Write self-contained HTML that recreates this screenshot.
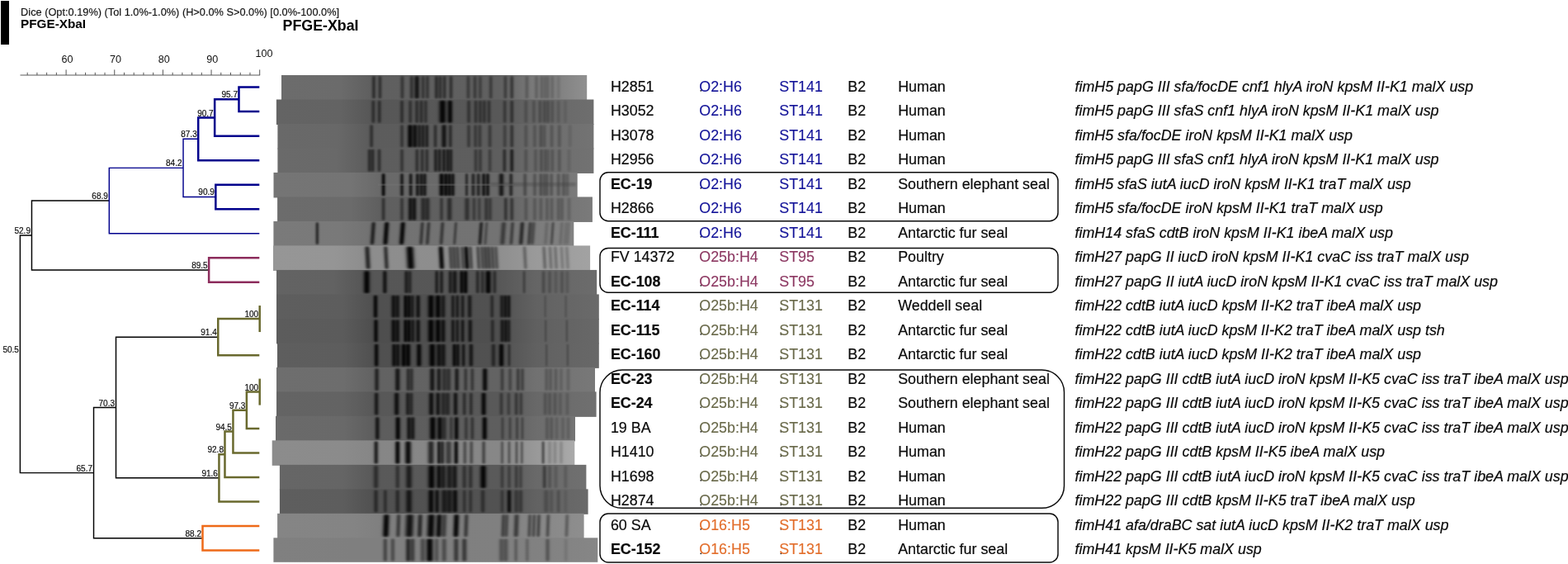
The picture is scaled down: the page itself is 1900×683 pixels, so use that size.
<!DOCTYPE html>
<html lang="en">
<head>
<meta charset="utf-8">
<title>PFGE-XbaI dendrogram</title>
<style>
html,body{margin:0;padding:0;background:#fff;}
body{width:1900px;height:683px;position:relative;overflow:hidden;font-family:"Liberation Sans",sans-serif;color:#0a0a0a;}
svg{position:absolute;left:0;top:0;}
svg text{font-family:"Liberation Sans",sans-serif;}
.bar{position:absolute;left:.6px;top:.7px;width:10.4px;height:53.8px;background:#000;}
.hd{position:absolute;white-space:nowrap;line-height:1;}
.r{position:absolute;left:0;width:1900px;height:30px;font-size:17.88px;line-height:30px;}
.c{position:absolute;top:0;white-space:nowrap;transform:scaleY(1.035);transform-origin:0 21.2px;-webkit-text-stroke:.2px currentColor;}
.k{-webkit-text-stroke:.12px currentColor;}
.b{font-weight:bold;}
.i{font-style:italic;}
</style>
</head>
<body>
<div class="bar"></div>
<div class="hd" style="left:25.1px;top:8.9px;font-size:12.78px;color:#111;-webkit-text-stroke:.15px #111">Dice (Opt:0.19%) (Tol 1.0%-1.0%) (H&gt;0.0% S&gt;0.0%) [0.0%-100.0%]</div>
<div class="hd b" style="left:25px;top:21.2px;font-size:15.3px;color:#000">PFGE-XbaI</div>
<div class="hd b" style="left:342.6px;top:22.9px;font-size:17.8px;color:#000">PFGE-XbaI</div>
<svg width="1900" height="683" viewBox="0 0 1900 683">
<defs><linearGradient id="bd" x1="0" x2="1" y1="0" y2="0"><stop offset="0" stop-color="#000" stop-opacity="0"/><stop offset="0.1" stop-color="#000" stop-opacity="0.007"/><stop offset="0.18" stop-color="#000" stop-opacity="0.06"/><stop offset="0.25" stop-color="#000" stop-opacity="0.228"/><stop offset="0.31" stop-color="#000" stop-opacity="0.484"/><stop offset="0.36" stop-color="#000" stop-opacity="0.721"/><stop offset="0.4" stop-color="#000" stop-opacity="0.872"/><stop offset="0.44" stop-color="#000" stop-opacity="0.964"/><stop offset="0.47" stop-color="#000" stop-opacity="0.994"/><stop offset="0.5" stop-color="#000" stop-opacity="1"/><stop offset="0.53" stop-color="#000" stop-opacity="0.994"/><stop offset="0.56" stop-color="#000" stop-opacity="0.964"/><stop offset="0.6" stop-color="#000" stop-opacity="0.872"/><stop offset="0.64" stop-color="#000" stop-opacity="0.721"/><stop offset="0.69" stop-color="#000" stop-opacity="0.484"/><stop offset="0.75" stop-color="#000" stop-opacity="0.228"/><stop offset="0.82" stop-color="#000" stop-opacity="0.06"/><stop offset="0.9" stop-color="#000" stop-opacity="0.007"/><stop offset="1" stop-color="#000" stop-opacity="0"/></linearGradient><linearGradient id="l0" x1="0" x2="1" y1="0" y2="0"><stop offset="0" stop-color="#6c6c6c"/><stop offset="0.194" stop-color="#6b6b6b"/><stop offset="0.291" stop-color="#5f5f5f"/><stop offset="0.713" stop-color="#606060"/><stop offset="0.835" stop-color="#7c7c7c"/><stop offset="0.88" stop-color="#7c7c7c"/><stop offset="1" stop-color="#909090"/></linearGradient><linearGradient id="l1" x1="0" x2="1" y1="0" y2="0"><stop offset="0" stop-color="#646464"/><stop offset="0.201" stop-color="#636363"/><stop offset="0.295" stop-color="#575757"/><stop offset="0.702" stop-color="#585858"/><stop offset="0.82" stop-color="#676767"/><stop offset="1" stop-color="#6e6e6e"/></linearGradient><linearGradient id="l2" x1="0" x2="1" y1="0" y2="0"><stop offset="0" stop-color="#696969"/><stop offset="0.192" stop-color="#686868"/><stop offset="0.286" stop-color="#5c5c5c"/><stop offset="0.701" stop-color="#5d5d5d"/><stop offset="0.819" stop-color="#6c6c6c"/><stop offset="1" stop-color="#737373"/></linearGradient><linearGradient id="l3" x1="0" x2="1" y1="0" y2="0"><stop offset="0" stop-color="#6a6a6a"/><stop offset="0.186" stop-color="#696969"/><stop offset="0.28" stop-color="#5d5d5d"/><stop offset="0.701" stop-color="#5e5e5e"/><stop offset="0.819" stop-color="#6c6c6c"/><stop offset="1" stop-color="#727272"/></linearGradient><linearGradient id="l4" x1="0" x2="1" y1="0" y2="0"><stop offset="0" stop-color="#757575"/><stop offset="0.253" stop-color="#747474"/><stop offset="0.351" stop-color="#696969"/><stop offset="0.743" stop-color="#6a6a6a"/><stop offset="0.865" stop-color="#757575"/><stop offset="1" stop-color="#7a7a7a"/></linearGradient><linearGradient id="l5" x1="0" x2="1" y1="0" y2="0"><stop offset="0" stop-color="#6c6c6c"/><stop offset="0.232" stop-color="#6b6b6b"/><stop offset="0.326" stop-color="#5f5f5f"/><stop offset="0.704" stop-color="#606060"/><stop offset="0.822" stop-color="#717171"/><stop offset="1" stop-color="#7a7a7a"/></linearGradient><linearGradient id="l6" x1="0" x2="1" y1="0" y2="0"><stop offset="0" stop-color="#7a7a7a"/><stop offset="0.221" stop-color="#797979"/><stop offset="0.32" stop-color="#727272"/><stop offset="0.752" stop-color="#737373"/><stop offset="0.876" stop-color="#7c7c7c"/><stop offset="1" stop-color="#828282"/></linearGradient><linearGradient id="l7" x1="0" x2="1" y1="0" y2="0"><stop offset="0" stop-color="#969696"/><stop offset="0.194" stop-color="#959595"/><stop offset="0.288" stop-color="#8d8d8d"/><stop offset="0.713" stop-color="#8e8e8e"/><stop offset="0.831" stop-color="#9a9a9a"/><stop offset="1" stop-color="#a2a2a2"/></linearGradient><linearGradient id="l8" x1="0" x2="1" y1="0" y2="0"><stop offset="0" stop-color="#636363"/><stop offset="0.179" stop-color="#626262"/><stop offset="0.272" stop-color="#565656"/><stop offset="0.696" stop-color="#575757"/><stop offset="0.811" stop-color="#656565"/><stop offset="1" stop-color="#6c6c6c"/></linearGradient><linearGradient id="l9" x1="0" x2="1" y1="0" y2="0"><stop offset="0" stop-color="#5e5e5e"/><stop offset="0.205" stop-color="#5d5d5d"/><stop offset="0.297" stop-color="#505050"/><stop offset="0.691" stop-color="#515151"/><stop offset="0.806" stop-color="#626262"/><stop offset="1" stop-color="#6a6a6a"/></linearGradient><linearGradient id="l10" x1="0" x2="1" y1="0" y2="0"><stop offset="0" stop-color="#5c5c5c"/><stop offset="0.206" stop-color="#5b5b5b"/><stop offset="0.298" stop-color="#4e4e4e"/><stop offset="0.691" stop-color="#4f4f4f"/><stop offset="0.806" stop-color="#606060"/><stop offset="1" stop-color="#686868"/></linearGradient><linearGradient id="l11" x1="0" x2="1" y1="0" y2="0"><stop offset="0" stop-color="#5e5e5e"/><stop offset="0.205" stop-color="#5d5d5d"/><stop offset="0.298" stop-color="#505050"/><stop offset="0.69" stop-color="#515151"/><stop offset="0.806" stop-color="#616161"/><stop offset="1" stop-color="#686868"/></linearGradient><linearGradient id="l12" x1="0" x2="1" y1="0" y2="0"><stop offset="0" stop-color="#6e6e6e"/><stop offset="0.211" stop-color="#6d6d6d"/><stop offset="0.304" stop-color="#626262"/><stop offset="0.699" stop-color="#636363"/><stop offset="0.816" stop-color="#717171"/><stop offset="1" stop-color="#787878"/></linearGradient><linearGradient id="l13" x1="0" x2="1" y1="0" y2="0"><stop offset="0" stop-color="#646464"/><stop offset="0.209" stop-color="#636363"/><stop offset="0.302" stop-color="#585858"/><stop offset="0.697" stop-color="#595959"/><stop offset="0.813" stop-color="#686868"/><stop offset="1" stop-color="#707070"/></linearGradient><linearGradient id="l14" x1="0" x2="1" y1="0" y2="0"><stop offset="0" stop-color="#6a6a6a"/><stop offset="0.229" stop-color="#696969"/><stop offset="0.328" stop-color="#5d5d5d"/><stop offset="0.747" stop-color="#5e5e5e"/><stop offset="0.871" stop-color="#6d6d6d"/><stop offset="1" stop-color="#747474"/></linearGradient><linearGradient id="l15" x1="0" x2="1" y1="0" y2="0"><stop offset="0" stop-color="#8c8c8c"/><stop offset="0.235" stop-color="#8b8b8b"/><stop offset="0.333" stop-color="#868686"/><stop offset="0.751" stop-color="#878787"/><stop offset="0.874" stop-color="#999999"/><stop offset="1" stop-color="#aaaaaa"/></linearGradient><linearGradient id="l16" x1="0" x2="1" y1="0" y2="0"><stop offset="0" stop-color="#666666"/><stop offset="0.206" stop-color="#656565"/><stop offset="0.303" stop-color="#595959"/><stop offset="0.716" stop-color="#5a5a5a"/><stop offset="0.837" stop-color="#696969"/><stop offset="1" stop-color="#707070"/></linearGradient><linearGradient id="l17" x1="0" x2="1" y1="0" y2="0"><stop offset="0" stop-color="#5e5e5e"/><stop offset="0.205" stop-color="#5d5d5d"/><stop offset="0.301" stop-color="#515151"/><stop offset="0.712" stop-color="#525252"/><stop offset="0.832" stop-color="#626262"/><stop offset="1" stop-color="#6a6a6a"/></linearGradient><linearGradient id="l18" x1="0" x2="1" y1="0" y2="0"><stop offset="0" stop-color="#858585"/><stop offset="0.247" stop-color="#848484"/><stop offset="0.344" stop-color="#7f7f7f"/><stop offset="0.724" stop-color="#808080"/><stop offset="0.845" stop-color="#878787"/><stop offset="1" stop-color="#8e8e8e"/></linearGradient><linearGradient id="l19" x1="0" x2="1" y1="0" y2="0"><stop offset="0" stop-color="#808080"/><stop offset="0.243" stop-color="#7f7f7f"/><stop offset="0.334" stop-color="#7f7f7f"/><stop offset="0.696" stop-color="#808080"/><stop offset="0.811" stop-color="#818181"/><stop offset="1" stop-color="#868686"/></linearGradient><filter id="bl" x="-5%" y="-20%" width="110%" height="140%"><feGaussianBlur stdDeviation="0.8 1.3"/></filter><clipPath id="c0"><rect x="341.0" y="91.00" width="370.2" height="29.49"/></clipPath><clipPath id="c1"><rect x="334.9" y="120.49" width="384.5" height="29.49"/></clipPath><clipPath id="c2"><rect x="336.4" y="149.98" width="383.0" height="29.49"/></clipPath><clipPath id="c3"><rect x="336.4" y="179.47" width="383.0" height="29.49"/></clipPath><clipPath id="c4"><rect x="331.5" y="208.96" width="368.2" height="29.49"/></clipPath><clipPath id="c5"><rect x="336.1" y="238.45" width="381.8" height="29.49"/></clipPath><clipPath id="c6"><rect x="331.4" y="267.94" width="363.9" height="29.49"/></clipPath><clipPath id="c7"><rect x="331.0" y="297.43" width="384.1" height="29.49"/></clipPath><clipPath id="c8"><rect x="335.0" y="326.92" width="388.2" height="29.49"/></clipPath><clipPath id="c9"><rect x="335.0" y="356.41" width="390.8" height="29.49"/></clipPath><clipPath id="c10"><rect x="335.0" y="385.90" width="390.8" height="29.49"/></clipPath><clipPath id="c11"><rect x="336.0" y="415.39" width="389.8" height="29.49"/></clipPath><clipPath id="c12"><rect x="335.0" y="444.88" width="386.0" height="29.49"/></clipPath><clipPath id="c13"><rect x="335.0" y="474.37" width="387.6" height="29.49"/></clipPath><clipPath id="c14"><rect x="334.0" y="503.86" width="363.0" height="29.49"/></clipPath><clipPath id="c15"><rect x="329.7" y="533.35" width="366.6" height="29.49"/></clipPath><clipPath id="c16"><rect x="338.9" y="562.84" width="371.5" height="29.49"/></clipPath><clipPath id="c17"><rect x="338.9" y="592.33" width="373.7" height="29.49"/></clipPath><clipPath id="c18"><rect x="336.1" y="621.82" width="371.5" height="29.49"/></clipPath><clipPath id="c19"><rect x="331.4" y="651.31" width="392.9" height="29.49"/></clipPath></defs><g shape-rendering="auto"><rect x="341.0" y="91.00" width="370.2" height="30.49" fill="url(#l0)"/><g clip-path="url(#c0)"><g filter="url(#bl)"><rect x="448.1" y="92.3" width="9.6" height="26.9" rx="4.8" ry="3.5" fill="url(#bd)" opacity="0.56"/><rect x="455.6" y="92.3" width="9.6" height="26.9" rx="4.8" ry="3.5" fill="url(#bd)" opacity="0.51"/><rect x="482.6" y="92.3" width="9.6" height="26.9" rx="4.8" ry="3.5" fill="url(#bd)" opacity="0.46"/><rect x="493.9" y="92.3" width="9.6" height="26.9" rx="4.8" ry="3.5" fill="url(#bd)" opacity="0.51"/><rect x="498.3" y="92.3" width="13.6" height="26.9" rx="6.8" ry="3.5" fill="url(#bd)" opacity="0.80"/><rect x="507.8" y="92.3" width="9.6" height="26.9" rx="4.8" ry="3.5" fill="url(#bd)" opacity="0.46"/><rect x="513.1" y="92.3" width="9.6" height="26.9" rx="4.8" ry="3.5" fill="url(#bd)" opacity="0.46"/><rect x="524.0" y="92.3" width="9.6" height="26.9" rx="4.8" ry="3.5" fill="url(#bd)" opacity="0.56"/><rect x="528.6" y="92.3" width="9.6" height="26.9" rx="4.8" ry="3.5" fill="url(#bd)" opacity="0.51"/><rect x="533.8" y="92.3" width="9.6" height="26.9" rx="4.8" ry="3.5" fill="url(#bd)" opacity="0.51"/><rect x="541.6" y="92.3" width="9.6" height="26.9" rx="4.8" ry="3.5" fill="url(#bd)" opacity="0.51"/><rect x="562.6" y="92.3" width="9.6" height="26.9" rx="4.8" ry="3.5" fill="url(#bd)" opacity="0.41"/><rect x="570.7" y="92.3" width="9.6" height="26.9" rx="4.8" ry="3.5" fill="url(#bd)" opacity="0.41"/><rect x="577.1" y="92.3" width="9.6" height="26.9" rx="4.8" ry="3.5" fill="url(#bd)" opacity="0.36"/><rect x="589.9" y="92.3" width="9.6" height="26.9" rx="4.8" ry="3.5" fill="url(#bd)" opacity="0.41"/><rect x="607.6" y="92.3" width="9.6" height="26.9" rx="4.8" ry="3.5" fill="url(#bd)" opacity="0.41"/><rect x="615.4" y="92.3" width="9.6" height="26.9" rx="4.8" ry="3.5" fill="url(#bd)" opacity="0.51"/><rect x="633.6" y="92.3" width="9.6" height="26.9" rx="4.8" ry="3.5" fill="url(#bd)" opacity="0.24"/><rect x="645.2" y="92.3" width="9.6" height="26.9" rx="4.8" ry="3.5" fill="url(#bd)" opacity="0.24"/><rect x="651.7" y="92.3" width="9.6" height="26.9" rx="4.8" ry="3.5" fill="url(#bd)" opacity="0.24"/><rect x="657.2" y="92.3" width="6.9" height="26.9" rx="3.5" ry="3.5" fill="url(#bd)" opacity="0.24"/><rect x="660.4" y="92.3" width="6.9" height="26.9" rx="3.5" ry="3.5" fill="url(#bd)" opacity="0.24"/><rect x="664.5" y="92.3" width="9.6" height="26.9" rx="4.8" ry="3.5" fill="url(#bd)" opacity="0.18"/><rect x="671.9" y="92.3" width="9.6" height="26.9" rx="4.8" ry="3.5" fill="url(#bd)" opacity="0.12"/></g></g><rect x="334.9" y="120.49" width="384.5" height="30.49" fill="url(#l1)"/><g clip-path="url(#c1)"><g filter="url(#bl)"><rect x="447.5" y="121.8" width="9.6" height="26.9" rx="4.8" ry="3.5" fill="url(#bd)" opacity="0.51"/><rect x="454.9" y="121.8" width="9.6" height="26.9" rx="4.8" ry="3.5" fill="url(#bd)" opacity="0.51"/><rect x="482.2" y="121.8" width="9.6" height="26.9" rx="4.8" ry="3.5" fill="url(#bd)" opacity="0.51"/><rect x="492.4" y="121.8" width="9.6" height="26.9" rx="4.8" ry="3.5" fill="url(#bd)" opacity="0.46"/><rect x="500.3" y="121.8" width="9.6" height="26.9" rx="4.8" ry="3.5" fill="url(#bd)" opacity="0.51"/><rect x="505.7" y="121.8" width="9.6" height="26.9" rx="4.8" ry="3.5" fill="url(#bd)" opacity="0.51"/><rect x="511.0" y="121.8" width="9.6" height="26.9" rx="4.8" ry="3.5" fill="url(#bd)" opacity="0.46"/><rect x="526.6" y="121.8" width="19.2" height="26.9" rx="9.6" ry="3.5" fill="url(#bd)" opacity="0.95"/><rect x="538.5" y="121.8" width="13.6" height="26.9" rx="6.8" ry="3.5" fill="url(#bd)" opacity="0.95"/><rect x="563.2" y="121.8" width="9.6" height="26.9" rx="4.8" ry="3.5" fill="url(#bd)" opacity="0.46"/><rect x="571.7" y="121.8" width="9.6" height="26.9" rx="4.8" ry="3.5" fill="url(#bd)" opacity="0.46"/><rect x="577.1" y="121.8" width="9.6" height="26.9" rx="4.8" ry="3.5" fill="url(#bd)" opacity="0.46"/><rect x="582.0" y="121.8" width="9.6" height="26.9" rx="4.8" ry="3.5" fill="url(#bd)" opacity="0.46"/><rect x="587.7" y="121.8" width="9.6" height="26.9" rx="4.8" ry="3.5" fill="url(#bd)" opacity="0.46"/><rect x="606.9" y="121.8" width="9.6" height="26.9" rx="4.8" ry="3.5" fill="url(#bd)" opacity="0.41"/><rect x="615.4" y="121.8" width="9.6" height="26.9" rx="4.8" ry="3.5" fill="url(#bd)" opacity="0.51"/><rect x="632.5" y="121.8" width="9.6" height="26.9" rx="4.8" ry="3.5" fill="url(#bd)" opacity="0.24"/><rect x="642.1" y="121.8" width="9.6" height="26.9" rx="4.8" ry="3.5" fill="url(#bd)" opacity="0.24"/><rect x="649.6" y="121.8" width="9.6" height="26.9" rx="4.8" ry="3.5" fill="url(#bd)" opacity="0.30"/><rect x="654.9" y="121.8" width="9.6" height="26.9" rx="4.8" ry="3.5" fill="url(#bd)" opacity="0.30"/><rect x="659.2" y="121.8" width="9.6" height="26.9" rx="4.8" ry="3.5" fill="url(#bd)" opacity="0.30"/><rect x="664.5" y="121.8" width="9.6" height="26.9" rx="4.8" ry="3.5" fill="url(#bd)" opacity="0.24"/><rect x="671.9" y="121.8" width="9.6" height="26.9" rx="4.8" ry="3.5" fill="url(#bd)" opacity="0.18"/><rect x="680.2" y="121.8" width="9.6" height="26.9" rx="4.8" ry="3.5" fill="url(#bd)" opacity="0.12"/></g></g><rect x="336.4" y="149.98" width="383.0" height="30.49" fill="url(#l2)"/><g clip-path="url(#c2)"><g filter="url(#bl)"><rect x="445.3" y="151.3" width="9.6" height="26.9" rx="4.8" ry="3.5" fill="url(#bd)" opacity="0.51"/><rect x="482.2" y="151.3" width="9.6" height="26.9" rx="4.8" ry="3.5" fill="url(#bd)" opacity="0.46"/><rect x="490.1" y="151.3" width="13.6" height="26.9" rx="6.8" ry="3.5" fill="url(#bd)" opacity="0.95"/><rect x="496.0" y="151.3" width="13.6" height="26.9" rx="6.8" ry="3.5" fill="url(#bd)" opacity="0.85"/><rect x="503.4" y="151.3" width="9.6" height="26.9" rx="4.8" ry="3.5" fill="url(#bd)" opacity="0.68"/><rect x="507.8" y="151.3" width="9.6" height="26.9" rx="4.8" ry="3.5" fill="url(#bd)" opacity="0.68"/><rect x="512.5" y="151.3" width="9.6" height="26.9" rx="4.8" ry="3.5" fill="url(#bd)" opacity="0.68"/><rect x="522.7" y="151.3" width="9.6" height="26.9" rx="4.8" ry="3.5" fill="url(#bd)" opacity="0.51"/><rect x="531.2" y="151.3" width="13.6" height="26.9" rx="6.8" ry="3.5" fill="url(#bd)" opacity="0.80"/><rect x="540.9" y="151.3" width="9.6" height="26.9" rx="4.8" ry="3.5" fill="url(#bd)" opacity="0.56"/><rect x="563.2" y="151.3" width="9.6" height="26.9" rx="4.8" ry="3.5" fill="url(#bd)" opacity="0.41"/><rect x="571.3" y="151.3" width="9.6" height="26.9" rx="4.8" ry="3.5" fill="url(#bd)" opacity="0.41"/><rect x="576.6" y="151.3" width="9.6" height="26.9" rx="4.8" ry="3.5" fill="url(#bd)" opacity="0.41"/><rect x="588.8" y="151.3" width="9.6" height="26.9" rx="4.8" ry="3.5" fill="url(#bd)" opacity="0.41"/><rect x="606.9" y="151.3" width="9.6" height="26.9" rx="4.8" ry="3.5" fill="url(#bd)" opacity="0.36"/><rect x="615.4" y="151.3" width="9.6" height="26.9" rx="4.8" ry="3.5" fill="url(#bd)" opacity="0.51"/><rect x="632.5" y="151.3" width="9.6" height="26.9" rx="4.8" ry="3.5" fill="url(#bd)" opacity="0.24"/><rect x="643.2" y="151.3" width="9.6" height="26.9" rx="4.8" ry="3.5" fill="url(#bd)" opacity="0.24"/><rect x="650.6" y="151.3" width="9.6" height="26.9" rx="4.8" ry="3.5" fill="url(#bd)" opacity="0.30"/><rect x="654.9" y="151.3" width="9.6" height="26.9" rx="4.8" ry="3.5" fill="url(#bd)" opacity="0.24"/><rect x="663.8" y="151.3" width="9.6" height="26.9" rx="4.8" ry="3.5" fill="url(#bd)" opacity="0.24"/><rect x="673.0" y="151.3" width="9.6" height="26.9" rx="4.8" ry="3.5" fill="url(#bd)" opacity="0.24"/><rect x="685.8" y="151.3" width="9.6" height="26.9" rx="4.8" ry="3.5" fill="url(#bd)" opacity="0.12"/></g></g><rect x="336.4" y="179.47" width="383.0" height="30.49" fill="url(#l3)"/><g clip-path="url(#c3)"><g filter="url(#bl)"><rect x="442.9" y="180.8" width="9.5" height="26.9" rx="4.7" ry="3.5" fill="url(#bd)" opacity="0.56"/><rect x="446.9" y="180.8" width="9.5" height="26.9" rx="4.7" ry="3.5" fill="url(#bd)" opacity="0.56"/><rect x="454.7" y="180.8" width="9.6" height="26.9" rx="4.8" ry="3.5" fill="url(#bd)" opacity="0.51"/><rect x="482.2" y="180.8" width="9.6" height="26.9" rx="4.8" ry="3.5" fill="url(#bd)" opacity="0.46"/><rect x="500.5" y="180.8" width="9.6" height="26.9" rx="4.8" ry="3.5" fill="url(#bd)" opacity="0.51"/><rect x="506.8" y="180.8" width="9.6" height="26.9" rx="4.8" ry="3.5" fill="url(#bd)" opacity="0.51"/><rect x="512.5" y="180.8" width="9.6" height="26.9" rx="4.8" ry="3.5" fill="url(#bd)" opacity="0.51"/><rect x="523.1" y="180.8" width="9.6" height="26.9" rx="4.8" ry="3.5" fill="url(#bd)" opacity="0.68"/><rect x="527.8" y="180.8" width="9.6" height="26.9" rx="4.8" ry="3.5" fill="url(#bd)" opacity="0.68"/><rect x="533.1" y="180.8" width="9.6" height="26.9" rx="4.8" ry="3.5" fill="url(#bd)" opacity="0.74"/><rect x="538.2" y="180.8" width="8.8" height="26.9" rx="4.4" ry="3.5" fill="url(#bd)" opacity="0.74"/><rect x="542.0" y="180.8" width="8.8" height="26.9" rx="4.4" ry="3.5" fill="url(#bd)" opacity="0.68"/><rect x="571.7" y="180.8" width="9.6" height="26.9" rx="4.8" ry="3.5" fill="url(#bd)" opacity="0.41"/><rect x="577.1" y="180.8" width="9.6" height="26.9" rx="4.8" ry="3.5" fill="url(#bd)" opacity="0.41"/><rect x="588.8" y="180.8" width="9.6" height="26.9" rx="4.8" ry="3.5" fill="url(#bd)" opacity="0.36"/><rect x="606.5" y="180.8" width="9.6" height="26.9" rx="4.8" ry="3.5" fill="url(#bd)" opacity="0.56"/><rect x="615.4" y="180.8" width="9.6" height="26.9" rx="4.8" ry="3.5" fill="url(#bd)" opacity="0.74"/><rect x="632.5" y="180.8" width="9.6" height="26.9" rx="4.8" ry="3.5" fill="url(#bd)" opacity="0.24"/><rect x="644.2" y="180.8" width="9.6" height="26.9" rx="4.8" ry="3.5" fill="url(#bd)" opacity="0.24"/><rect x="651.2" y="180.8" width="9.6" height="26.9" rx="4.8" ry="3.5" fill="url(#bd)" opacity="0.30"/><rect x="657.1" y="180.8" width="7.3" height="26.9" rx="3.6" ry="3.5" fill="url(#bd)" opacity="0.30"/><rect x="660.4" y="180.8" width="7.3" height="26.9" rx="3.6" ry="3.5" fill="url(#bd)" opacity="0.24"/><rect x="664.5" y="180.8" width="9.6" height="26.9" rx="4.8" ry="3.5" fill="url(#bd)" opacity="0.24"/><rect x="673.0" y="180.8" width="9.6" height="26.9" rx="4.8" ry="3.5" fill="url(#bd)" opacity="0.24"/><rect x="684.7" y="180.8" width="9.6" height="26.9" rx="4.8" ry="3.5" fill="url(#bd)" opacity="0.12"/></g></g><rect x="331.5" y="208.96" width="368.2" height="30.49" fill="url(#l4)"/><g clip-path="url(#c4)"><g filter="url(#bl)"><rect x="459.8" y="210.3" width="9.6" height="26.9" rx="4.8" ry="3.5" fill="url(#bd)" opacity="0.95"/><rect x="482.2" y="210.3" width="9.6" height="26.9" rx="4.8" ry="3.5" fill="url(#bd)" opacity="0.80"/><rect x="492.9" y="210.3" width="9.6" height="26.9" rx="4.8" ry="3.5" fill="url(#bd)" opacity="0.80"/><rect x="501.0" y="210.3" width="9.6" height="26.9" rx="4.8" ry="3.5" fill="url(#bd)" opacity="0.80"/><rect x="505.7" y="210.3" width="9.6" height="26.9" rx="4.8" ry="3.5" fill="url(#bd)" opacity="0.80"/><rect x="509.9" y="210.3" width="9.6" height="26.9" rx="4.8" ry="3.5" fill="url(#bd)" opacity="0.80"/><rect x="528.4" y="210.3" width="13.3" height="26.9" rx="6.6" ry="3.5" fill="url(#bd)" opacity="0.95"/><rect x="535.1" y="210.3" width="10.4" height="26.9" rx="5.2" ry="3.5" fill="url(#bd)" opacity="0.95"/><rect x="539.8" y="210.3" width="9.6" height="26.9" rx="4.8" ry="3.5" fill="url(#bd)" opacity="0.91"/><rect x="544.0" y="210.3" width="9.6" height="26.9" rx="4.8" ry="3.5" fill="url(#bd)" opacity="0.85"/><rect x="561.7" y="210.3" width="7.5" height="26.9" rx="3.8" ry="3.5" fill="url(#bd)" opacity="0.68"/><rect x="568.6" y="210.3" width="9.6" height="26.9" rx="4.8" ry="3.5" fill="url(#bd)" opacity="0.68"/><rect x="574.9" y="210.3" width="9.6" height="26.9" rx="4.8" ry="3.5" fill="url(#bd)" opacity="0.68"/><rect x="581.3" y="210.3" width="9.6" height="26.9" rx="4.8" ry="3.5" fill="url(#bd)" opacity="0.85"/><rect x="586.2" y="210.3" width="9.6" height="26.9" rx="4.8" ry="3.5" fill="url(#bd)" opacity="0.85"/><rect x="600.7" y="210.3" width="13.6" height="26.9" rx="6.8" ry="3.5" fill="url(#bd)" opacity="0.80"/><rect x="614.4" y="210.3" width="9.6" height="26.9" rx="4.8" ry="3.5" fill="url(#bd)" opacity="0.68"/><rect x="631.4" y="210.3" width="9.6" height="26.9" rx="4.8" ry="3.5" fill="url(#bd)" opacity="0.36"/><rect x="643.2" y="210.3" width="9.6" height="26.9" rx="4.8" ry="3.5" fill="url(#bd)" opacity="0.30"/><rect x="650.6" y="210.3" width="9.6" height="26.9" rx="4.8" ry="3.5" fill="url(#bd)" opacity="0.36"/><rect x="656.2" y="210.3" width="6.9" height="26.9" rx="3.5" ry="3.5" fill="url(#bd)" opacity="0.36"/><rect x="659.4" y="210.3" width="6.9" height="26.9" rx="3.5" ry="3.5" fill="url(#bd)" opacity="0.36"/><rect x="663.4" y="210.3" width="9.6" height="26.9" rx="4.8" ry="3.5" fill="url(#bd)" opacity="0.30"/><rect x="671.9" y="210.3" width="9.6" height="26.9" rx="4.8" ry="3.5" fill="url(#bd)" opacity="0.30"/><rect x="678.2" y="210.3" width="9.6" height="26.9" rx="4.8" ry="3.5" fill="url(#bd)" opacity="0.30"/><rect x="682.6" y="210.3" width="9.6" height="26.9" rx="4.8" ry="3.5" fill="url(#bd)" opacity="0.24"/></g></g><rect x="458.0" y="222.50" width="165.0" height="2.4" fill="#757575" opacity=".4"/><rect x="594.0" y="221.10" width="104.0" height="4.5" rx="2" fill="#3a3a3a" opacity=".3" filter="url(#bl)"/><rect x="336.1" y="238.45" width="381.8" height="30.49" fill="url(#l5)"/><g clip-path="url(#c5)"><g filter="url(#bl)"><rect x="459.8" y="239.8" width="9.6" height="26.9" rx="4.8" ry="3.5" fill="url(#bd)" opacity="0.51"/><rect x="482.2" y="239.8" width="9.6" height="26.9" rx="4.8" ry="3.5" fill="url(#bd)" opacity="0.46"/><rect x="491.3" y="239.8" width="11.8" height="26.9" rx="5.9" ry="3.5" fill="url(#bd)" opacity="0.80"/><rect x="496.1" y="239.8" width="11.8" height="26.9" rx="5.9" ry="3.5" fill="url(#bd)" opacity="0.80"/><rect x="506.0" y="239.8" width="13.3" height="26.9" rx="6.6" ry="3.5" fill="url(#bd)" opacity="0.56"/><rect x="511.3" y="239.8" width="13.3" height="26.9" rx="6.6" ry="3.5" fill="url(#bd)" opacity="0.56"/><rect x="530.2" y="239.8" width="9.6" height="26.9" rx="4.8" ry="3.5" fill="url(#bd)" opacity="0.46"/><rect x="537.8" y="239.8" width="13.6" height="26.9" rx="6.8" ry="3.5" fill="url(#bd)" opacity="0.56"/><rect x="559.1" y="239.8" width="13.6" height="26.9" rx="6.8" ry="3.5" fill="url(#bd)" opacity="0.51"/><rect x="569.6" y="239.8" width="9.6" height="26.9" rx="4.8" ry="3.5" fill="url(#bd)" opacity="0.41"/><rect x="576.0" y="239.8" width="9.6" height="26.9" rx="4.8" ry="3.5" fill="url(#bd)" opacity="0.36"/><rect x="583.5" y="239.8" width="11.5" height="26.9" rx="5.8" ry="3.5" fill="url(#bd)" opacity="0.46"/><rect x="589.2" y="239.8" width="9.6" height="26.9" rx="4.8" ry="3.5" fill="url(#bd)" opacity="0.41"/><rect x="608.0" y="239.8" width="9.6" height="26.9" rx="4.8" ry="3.5" fill="url(#bd)" opacity="0.51"/><rect x="615.4" y="239.8" width="9.6" height="26.9" rx="4.8" ry="3.5" fill="url(#bd)" opacity="0.51"/><rect x="632.5" y="239.8" width="9.6" height="26.9" rx="4.8" ry="3.5" fill="url(#bd)" opacity="0.24"/><rect x="643.2" y="239.8" width="9.6" height="26.9" rx="4.8" ry="3.5" fill="url(#bd)" opacity="0.24"/><rect x="650.6" y="239.8" width="9.6" height="26.9" rx="4.8" ry="3.5" fill="url(#bd)" opacity="0.24"/><rect x="658.1" y="239.8" width="9.6" height="26.9" rx="4.8" ry="3.5" fill="url(#bd)" opacity="0.24"/><rect x="663.8" y="239.8" width="9.6" height="26.9" rx="4.8" ry="3.5" fill="url(#bd)" opacity="0.24"/><rect x="671.9" y="239.8" width="9.6" height="26.9" rx="4.8" ry="3.5" fill="url(#bd)" opacity="0.24"/><rect x="676.2" y="239.8" width="9.6" height="26.9" rx="4.8" ry="3.5" fill="url(#bd)" opacity="0.24"/><rect x="684.7" y="239.8" width="9.6" height="26.9" rx="4.8" ry="3.5" fill="url(#bd)" opacity="0.18"/></g></g><rect x="331.4" y="267.94" width="363.9" height="30.49" fill="url(#l6)"/><g clip-path="url(#c6)"><g filter="url(#bl)" transform="translate(0 282.68) skewX(-4) translate(0 -282.68)"><rect x="446.0" y="269.2" width="11.6" height="26.9" rx="5.8" ry="3.5" fill="url(#bd)" opacity="0.74"/><rect x="461.0" y="269.2" width="13.6" height="26.9" rx="6.8" ry="3.5" fill="url(#bd)" opacity="0.95"/><rect x="480.6" y="269.2" width="13.6" height="26.9" rx="6.8" ry="3.5" fill="url(#bd)" opacity="0.95"/><rect x="506.1" y="269.2" width="9.6" height="26.9" rx="4.8" ry="3.5" fill="url(#bd)" opacity="0.56"/><rect x="513.8" y="269.2" width="9.6" height="26.9" rx="4.8" ry="3.5" fill="url(#bd)" opacity="0.56"/><rect x="530.6" y="269.2" width="9.6" height="26.9" rx="4.8" ry="3.5" fill="url(#bd)" opacity="0.56"/><rect x="547.8" y="269.2" width="7.5" height="26.9" rx="3.8" ry="3.5" fill="url(#bd)" opacity="0.51"/><rect x="577.5" y="269.2" width="9.6" height="26.9" rx="4.8" ry="3.5" fill="url(#bd)" opacity="0.74"/><rect x="585.1" y="269.2" width="7.5" height="26.9" rx="3.8" ry="3.5" fill="url(#bd)" opacity="0.41"/><rect x="602.8" y="269.2" width="13.6" height="26.9" rx="6.8" ry="3.5" fill="url(#bd)" opacity="0.51"/><rect x="615.4" y="269.2" width="9.6" height="26.9" rx="4.8" ry="3.5" fill="url(#bd)" opacity="0.51"/><rect x="626.2" y="269.2" width="11.6" height="26.9" rx="5.8" ry="3.5" fill="url(#bd)" opacity="0.68"/><rect x="636.6" y="269.2" width="10.1" height="26.9" rx="5.0" ry="3.5" fill="url(#bd)" opacity="0.51"/><rect x="640.8" y="269.2" width="10.1" height="26.9" rx="5.0" ry="3.5" fill="url(#bd)" opacity="0.41"/><rect x="657.0" y="269.2" width="9.6" height="26.9" rx="4.8" ry="3.5" fill="url(#bd)" opacity="0.18"/><rect x="665.5" y="269.2" width="7.5" height="26.9" rx="3.8" ry="3.5" fill="url(#bd)" opacity="0.46"/><rect x="675.2" y="269.2" width="9.6" height="26.9" rx="4.8" ry="3.5" fill="url(#bd)" opacity="0.18"/><rect x="681.8" y="269.2" width="6.9" height="26.9" rx="3.5" ry="3.5" fill="url(#bd)" opacity="0.18"/><rect x="685.0" y="269.2" width="6.9" height="26.9" rx="3.5" ry="3.5" fill="url(#bd)" opacity="0.18"/></g><rect x="380.1" y="269.2" width="8.5" height="26.9" rx="4.2" ry="6" fill="url(#bd)" opacity="0.71" filter="url(#bl)"/></g><rect x="331.0" y="297.43" width="384.1" height="30.49" fill="url(#l7)"/><g clip-path="url(#c7)"><g filter="url(#bl)" transform="translate(0 312.17) skewX(3) translate(0 -312.17)"><rect x="438.7" y="298.7" width="13.6" height="26.9" rx="6.8" ry="3.5" fill="url(#bd)" opacity="0.74"/><rect x="462.1" y="298.7" width="11.6" height="26.9" rx="5.8" ry="3.5" fill="url(#bd)" opacity="0.68"/><rect x="486.3" y="298.7" width="21.8" height="26.9" rx="10.9" ry="3.5" fill="url(#bd)" opacity="0.95"/><rect x="528.0" y="298.7" width="13.6" height="26.9" rx="6.8" ry="3.5" fill="url(#bd)" opacity="0.95"/><rect x="541.0" y="298.7" width="10.4" height="26.9" rx="5.2" ry="3.5" fill="url(#bd)" opacity="0.51"/><rect x="545.3" y="298.7" width="10.4" height="26.9" rx="5.2" ry="3.5" fill="url(#bd)" opacity="0.51"/><rect x="549.5" y="298.7" width="10.9" height="26.9" rx="5.5" ry="3.5" fill="url(#bd)" opacity="0.51"/><rect x="555.8" y="298.7" width="9.6" height="26.9" rx="4.8" ry="3.5" fill="url(#bd)" opacity="0.51"/><rect x="559.5" y="298.7" width="11.8" height="26.9" rx="5.9" ry="3.5" fill="url(#bd)" opacity="0.95"/><rect x="565.8" y="298.7" width="9.6" height="26.9" rx="4.8" ry="3.5" fill="url(#bd)" opacity="0.51"/><rect x="574.9" y="298.7" width="9.6" height="26.9" rx="4.8" ry="3.5" fill="url(#bd)" opacity="0.51"/><rect x="579.8" y="298.7" width="9.5" height="26.9" rx="4.7" ry="3.5" fill="url(#bd)" opacity="0.51"/><rect x="583.8" y="298.7" width="9.5" height="26.9" rx="4.7" ry="3.5" fill="url(#bd)" opacity="0.56"/><rect x="587.8" y="298.7" width="9.5" height="26.9" rx="4.7" ry="3.5" fill="url(#bd)" opacity="0.56"/><rect x="592.2" y="298.7" width="9.6" height="26.9" rx="4.8" ry="3.5" fill="url(#bd)" opacity="0.51"/><rect x="596.7" y="298.7" width="9.6" height="26.9" rx="4.8" ry="3.5" fill="url(#bd)" opacity="0.46"/><rect x="631.4" y="298.7" width="9.6" height="26.9" rx="4.8" ry="3.5" fill="url(#bd)" opacity="0.36"/><rect x="654.9" y="298.7" width="9.6" height="26.9" rx="4.8" ry="3.5" fill="url(#bd)" opacity="0.36"/><rect x="662.3" y="298.7" width="9.6" height="26.9" rx="4.8" ry="3.5" fill="url(#bd)" opacity="0.30"/><rect x="668.7" y="298.7" width="9.6" height="26.9" rx="4.8" ry="3.5" fill="url(#bd)" opacity="0.30"/><rect x="676.2" y="298.7" width="9.6" height="26.9" rx="4.8" ry="3.5" fill="url(#bd)" opacity="0.24"/><rect x="682.6" y="298.7" width="9.6" height="26.9" rx="4.8" ry="3.5" fill="url(#bd)" opacity="0.24"/></g></g><rect x="335.0" y="326.92" width="388.2" height="30.49" fill="url(#l8)"/><g clip-path="url(#c8)"><g filter="url(#bl)"><rect x="435.7" y="328.2" width="17.4" height="26.9" rx="8.7" ry="3.5" fill="url(#bd)" opacity="0.95"/><rect x="460.5" y="328.2" width="11.6" height="26.9" rx="5.8" ry="3.5" fill="url(#bd)" opacity="0.80"/><rect x="487.1" y="328.2" width="10.4" height="26.9" rx="5.2" ry="3.5" fill="url(#bd)" opacity="0.68"/><rect x="491.4" y="328.2" width="10.4" height="26.9" rx="5.2" ry="3.5" fill="url(#bd)" opacity="0.56"/><rect x="524.4" y="328.2" width="9.6" height="26.9" rx="4.8" ry="3.5" fill="url(#bd)" opacity="0.68"/><rect x="530.2" y="328.2" width="9.6" height="26.9" rx="4.8" ry="3.5" fill="url(#bd)" opacity="0.68"/><rect x="540.8" y="328.2" width="9.6" height="26.9" rx="4.8" ry="3.5" fill="url(#bd)" opacity="0.68"/><rect x="544.2" y="328.2" width="13.6" height="26.9" rx="6.8" ry="3.5" fill="url(#bd)" opacity="0.74"/><rect x="553.7" y="328.2" width="11.5" height="26.9" rx="5.8" ry="3.5" fill="url(#bd)" opacity="0.91"/><rect x="558.4" y="328.2" width="11.5" height="26.9" rx="5.8" ry="3.5" fill="url(#bd)" opacity="0.95"/><rect x="573.9" y="328.2" width="9.6" height="26.9" rx="4.8" ry="3.5" fill="url(#bd)" opacity="0.56"/><rect x="579.8" y="328.2" width="9.6" height="26.9" rx="4.8" ry="3.5" fill="url(#bd)" opacity="0.51"/><rect x="583.8" y="328.2" width="15.5" height="26.9" rx="7.7" ry="3.5" fill="url(#bd)" opacity="0.95"/><rect x="594.6" y="328.2" width="9.6" height="26.9" rx="4.8" ry="3.5" fill="url(#bd)" opacity="0.51"/><rect x="631.4" y="328.2" width="7.5" height="26.9" rx="3.8" ry="3.5" fill="url(#bd)" opacity="0.36"/><rect x="653.8" y="328.2" width="9.6" height="26.9" rx="4.8" ry="3.5" fill="url(#bd)" opacity="0.30"/><rect x="661.3" y="328.2" width="9.6" height="26.9" rx="4.8" ry="3.5" fill="url(#bd)" opacity="0.24"/><rect x="668.7" y="328.2" width="9.6" height="26.9" rx="4.8" ry="3.5" fill="url(#bd)" opacity="0.18"/><rect x="676.2" y="328.2" width="9.6" height="26.9" rx="4.8" ry="3.5" fill="url(#bd)" opacity="0.24"/><rect x="682.6" y="328.2" width="9.6" height="26.9" rx="4.8" ry="3.5" fill="url(#bd)" opacity="0.18"/></g></g><rect x="335.0" y="356.41" width="390.8" height="30.49" fill="url(#l9)"/><g clip-path="url(#c9)"><g filter="url(#bl)"><rect x="449.2" y="357.7" width="11.6" height="26.9" rx="5.8" ry="3.5" fill="url(#bd)" opacity="0.91"/><rect x="470.7" y="357.7" width="12.1" height="26.9" rx="6.1" ry="3.5" fill="url(#bd)" opacity="0.80"/><rect x="475.6" y="357.7" width="12.1" height="26.9" rx="6.1" ry="3.5" fill="url(#bd)" opacity="0.74"/><rect x="486.3" y="357.7" width="10.1" height="26.9" rx="5.0" ry="3.5" fill="url(#bd)" opacity="0.95"/><rect x="490.5" y="357.7" width="10.1" height="26.9" rx="5.0" ry="3.5" fill="url(#bd)" opacity="0.91"/><rect x="495.0" y="357.7" width="9.6" height="26.9" rx="4.8" ry="3.5" fill="url(#bd)" opacity="0.68"/><rect x="500.8" y="357.7" width="11.6" height="26.9" rx="5.8" ry="3.5" fill="url(#bd)" opacity="0.80"/><rect x="513.5" y="357.7" width="17.4" height="26.9" rx="8.7" ry="3.5" fill="url(#bd)" opacity="0.95"/><rect x="523.0" y="357.7" width="15.5" height="26.9" rx="7.7" ry="3.5" fill="url(#bd)" opacity="0.95"/><rect x="531.3" y="357.7" width="11.6" height="26.9" rx="5.8" ry="3.5" fill="url(#bd)" opacity="0.68"/><rect x="544.0" y="357.7" width="9.6" height="26.9" rx="4.8" ry="3.5" fill="url(#bd)" opacity="0.68"/><rect x="549.4" y="357.7" width="9.6" height="26.9" rx="4.8" ry="3.5" fill="url(#bd)" opacity="0.68"/><rect x="555.8" y="357.7" width="9.6" height="26.9" rx="4.8" ry="3.5" fill="url(#bd)" opacity="0.68"/><rect x="563.3" y="357.7" width="11.6" height="26.9" rx="5.8" ry="3.5" fill="url(#bd)" opacity="0.68"/><rect x="591.4" y="357.7" width="9.6" height="26.9" rx="4.8" ry="3.5" fill="url(#bd)" opacity="0.51"/><rect x="602.9" y="357.7" width="10.4" height="26.9" rx="5.2" ry="3.5" fill="url(#bd)" opacity="0.68"/><rect x="607.6" y="357.7" width="9.6" height="26.9" rx="4.8" ry="3.5" fill="url(#bd)" opacity="0.80"/><rect x="611.8" y="357.7" width="9.6" height="26.9" rx="4.8" ry="3.5" fill="url(#bd)" opacity="0.80"/><rect x="658.1" y="357.7" width="5.2" height="26.9" rx="2.6" ry="3.5" fill="url(#bd)" opacity="0.24"/><rect x="683.1" y="357.7" width="5.2" height="26.9" rx="2.6" ry="3.5" fill="url(#bd)" opacity="0.24"/></g></g><rect x="335.0" y="385.90" width="390.8" height="30.49" fill="url(#l10)"/><g clip-path="url(#c10)"><g filter="url(#bl)"><rect x="449.7" y="387.2" width="11.6" height="26.9" rx="5.8" ry="3.5" fill="url(#bd)" opacity="0.91"/><rect x="470.7" y="387.2" width="12.1" height="26.9" rx="6.1" ry="3.5" fill="url(#bd)" opacity="0.85"/><rect x="475.6" y="387.2" width="12.1" height="26.9" rx="6.1" ry="3.5" fill="url(#bd)" opacity="0.80"/><rect x="486.3" y="387.2" width="10.1" height="26.9" rx="5.0" ry="3.5" fill="url(#bd)" opacity="0.95"/><rect x="490.5" y="387.2" width="10.1" height="26.9" rx="5.0" ry="3.5" fill="url(#bd)" opacity="0.95"/><rect x="495.4" y="387.2" width="9.6" height="26.9" rx="4.8" ry="3.5" fill="url(#bd)" opacity="0.74"/><rect x="500.8" y="387.2" width="11.6" height="26.9" rx="5.8" ry="3.5" fill="url(#bd)" opacity="0.80"/><rect x="513.5" y="387.2" width="17.4" height="26.9" rx="8.7" ry="3.5" fill="url(#bd)" opacity="0.95"/><rect x="523.0" y="387.2" width="15.5" height="26.9" rx="7.7" ry="3.5" fill="url(#bd)" opacity="0.95"/><rect x="531.3" y="387.2" width="11.6" height="26.9" rx="5.8" ry="3.5" fill="url(#bd)" opacity="0.80"/><rect x="544.0" y="387.2" width="9.6" height="26.9" rx="4.8" ry="3.5" fill="url(#bd)" opacity="0.74"/><rect x="549.4" y="387.2" width="9.6" height="26.9" rx="4.8" ry="3.5" fill="url(#bd)" opacity="0.68"/><rect x="555.8" y="387.2" width="9.6" height="26.9" rx="4.8" ry="3.5" fill="url(#bd)" opacity="0.74"/><rect x="563.9" y="387.2" width="11.6" height="26.9" rx="5.8" ry="3.5" fill="url(#bd)" opacity="0.74"/><rect x="592.0" y="387.2" width="9.6" height="26.9" rx="4.8" ry="3.5" fill="url(#bd)" opacity="0.51"/><rect x="603.3" y="387.2" width="10.4" height="26.9" rx="5.2" ry="3.5" fill="url(#bd)" opacity="0.74"/><rect x="608.4" y="387.2" width="8.8" height="26.9" rx="4.4" ry="3.5" fill="url(#bd)" opacity="0.80"/><rect x="612.2" y="387.2" width="8.8" height="26.9" rx="4.4" ry="3.5" fill="url(#bd)" opacity="0.68"/><rect x="658.6" y="387.2" width="5.2" height="26.9" rx="2.6" ry="3.5" fill="url(#bd)" opacity="0.30"/><rect x="684.2" y="387.2" width="5.2" height="26.9" rx="2.6" ry="3.5" fill="url(#bd)" opacity="0.30"/></g></g><rect x="336.0" y="415.39" width="389.8" height="30.49" fill="url(#l11)"/><g clip-path="url(#c11)"><g filter="url(#bl)"><rect x="450.3" y="416.7" width="11.6" height="26.9" rx="5.8" ry="3.5" fill="url(#bd)" opacity="0.91"/><rect x="471.6" y="416.7" width="11.5" height="26.9" rx="5.8" ry="3.5" fill="url(#bd)" opacity="0.85"/><rect x="476.3" y="416.7" width="11.5" height="26.9" rx="5.8" ry="3.5" fill="url(#bd)" opacity="0.80"/><rect x="482.3" y="416.7" width="13.6" height="26.9" rx="6.8" ry="3.5" fill="url(#bd)" opacity="0.95"/><rect x="487.7" y="416.7" width="13.6" height="26.9" rx="6.8" ry="3.5" fill="url(#bd)" opacity="0.95"/><rect x="500.9" y="416.7" width="13.6" height="26.9" rx="6.8" ry="3.5" fill="url(#bd)" opacity="0.91"/><rect x="515.0" y="416.7" width="17.4" height="26.9" rx="8.7" ry="3.5" fill="url(#bd)" opacity="0.95"/><rect x="525.2" y="416.7" width="13.3" height="26.9" rx="6.6" ry="3.5" fill="url(#bd)" opacity="0.80"/><rect x="530.5" y="416.7" width="13.3" height="26.9" rx="6.6" ry="3.5" fill="url(#bd)" opacity="0.74"/><rect x="545.3" y="416.7" width="10.4" height="26.9" rx="5.2" ry="3.5" fill="url(#bd)" opacity="0.91"/><rect x="549.6" y="416.7" width="10.4" height="26.9" rx="5.2" ry="3.5" fill="url(#bd)" opacity="0.80"/><rect x="556.8" y="416.7" width="9.6" height="26.9" rx="4.8" ry="3.5" fill="url(#bd)" opacity="0.74"/><rect x="565.0" y="416.7" width="11.6" height="26.9" rx="5.8" ry="3.5" fill="url(#bd)" opacity="0.74"/><rect x="592.1" y="416.7" width="11.6" height="26.9" rx="5.8" ry="3.5" fill="url(#bd)" opacity="0.56"/><rect x="600.7" y="416.7" width="13.6" height="26.9" rx="6.8" ry="3.5" fill="url(#bd)" opacity="0.95"/><rect x="613.2" y="416.7" width="7.5" height="26.9" rx="3.8" ry="3.5" fill="url(#bd)" opacity="0.51"/><rect x="659.6" y="416.7" width="5.2" height="26.9" rx="2.6" ry="3.5" fill="url(#bd)" opacity="0.30"/><rect x="685.2" y="416.7" width="5.2" height="26.9" rx="2.6" ry="3.5" fill="url(#bd)" opacity="0.30"/></g></g><rect x="335.0" y="444.88" width="386.0" height="30.49" fill="url(#l12)"/><g clip-path="url(#c12)"><g filter="url(#bl)"><rect x="450.7" y="446.2" width="11.6" height="26.9" rx="5.8" ry="3.5" fill="url(#bd)" opacity="0.68"/><rect x="474.9" y="446.2" width="13.6" height="26.9" rx="6.8" ry="3.5" fill="url(#bd)" opacity="0.80"/><rect x="489.5" y="446.2" width="10.1" height="26.9" rx="5.0" ry="3.5" fill="url(#bd)" opacity="0.56"/><rect x="493.7" y="446.2" width="10.1" height="26.9" rx="5.0" ry="3.5" fill="url(#bd)" opacity="0.51"/><rect x="516.9" y="446.2" width="13.6" height="26.9" rx="6.8" ry="3.5" fill="url(#bd)" opacity="0.80"/><rect x="526.0" y="446.2" width="11.6" height="26.9" rx="5.8" ry="3.5" fill="url(#bd)" opacity="0.74"/><rect x="531.6" y="446.2" width="13.3" height="26.9" rx="6.6" ry="3.5" fill="url(#bd)" opacity="0.51"/><rect x="536.9" y="446.2" width="13.3" height="26.9" rx="6.6" ry="3.5" fill="url(#bd)" opacity="0.51"/><rect x="547.7" y="446.2" width="11.6" height="26.9" rx="5.8" ry="3.5" fill="url(#bd)" opacity="0.74"/><rect x="559.4" y="446.2" width="9.6" height="26.9" rx="4.8" ry="3.5" fill="url(#bd)" opacity="0.46"/><rect x="567.5" y="446.2" width="9.6" height="26.9" rx="4.8" ry="3.5" fill="url(#bd)" opacity="0.46"/><rect x="580.8" y="446.2" width="13.6" height="26.9" rx="6.8" ry="3.5" fill="url(#bd)" opacity="0.91"/><rect x="603.7" y="446.2" width="9.6" height="26.9" rx="4.8" ry="3.5" fill="url(#bd)" opacity="0.41"/><rect x="613.3" y="446.2" width="9.6" height="26.9" rx="4.8" ry="3.5" fill="url(#bd)" opacity="0.36"/><rect x="622.9" y="446.2" width="9.6" height="26.9" rx="4.8" ry="3.5" fill="url(#bd)" opacity="0.46"/><rect x="628.2" y="446.2" width="9.6" height="26.9" rx="4.8" ry="3.5" fill="url(#bd)" opacity="0.41"/><rect x="657.4" y="446.2" width="9.6" height="26.9" rx="4.8" ry="3.5" fill="url(#bd)" opacity="0.24"/><rect x="662.3" y="446.2" width="9.6" height="26.9" rx="4.8" ry="3.5" fill="url(#bd)" opacity="0.24"/><rect x="668.7" y="446.2" width="9.6" height="26.9" rx="4.8" ry="3.5" fill="url(#bd)" opacity="0.24"/><rect x="675.2" y="446.2" width="9.6" height="26.9" rx="4.8" ry="3.5" fill="url(#bd)" opacity="0.18"/><rect x="683.7" y="446.2" width="9.6" height="26.9" rx="4.8" ry="3.5" fill="url(#bd)" opacity="0.18"/></g></g><rect x="335.0" y="474.37" width="387.6" height="30.49" fill="url(#l13)"/><g clip-path="url(#c13)"><g filter="url(#bl)"><rect x="450.3" y="475.7" width="11.6" height="26.9" rx="5.8" ry="3.5" fill="url(#bd)" opacity="0.74"/><rect x="473.8" y="475.7" width="13.6" height="26.9" rx="6.8" ry="3.5" fill="url(#bd)" opacity="0.85"/><rect x="488.8" y="475.7" width="10.4" height="26.9" rx="5.2" ry="3.5" fill="url(#bd)" opacity="0.68"/><rect x="493.1" y="475.7" width="10.4" height="26.9" rx="5.2" ry="3.5" fill="url(#bd)" opacity="0.56"/><rect x="515.8" y="475.7" width="13.6" height="26.9" rx="6.8" ry="3.5" fill="url(#bd)" opacity="0.85"/><rect x="524.9" y="475.7" width="11.6" height="26.9" rx="5.8" ry="3.5" fill="url(#bd)" opacity="0.80"/><rect x="530.5" y="475.7" width="13.3" height="26.9" rx="6.6" ry="3.5" fill="url(#bd)" opacity="0.56"/><rect x="535.8" y="475.7" width="13.3" height="26.9" rx="6.6" ry="3.5" fill="url(#bd)" opacity="0.56"/><rect x="546.2" y="475.7" width="11.6" height="26.9" rx="5.8" ry="3.5" fill="url(#bd)" opacity="0.80"/><rect x="557.9" y="475.7" width="9.6" height="26.9" rx="4.8" ry="3.5" fill="url(#bd)" opacity="0.51"/><rect x="566.0" y="475.7" width="9.6" height="26.9" rx="4.8" ry="3.5" fill="url(#bd)" opacity="0.51"/><rect x="579.3" y="475.7" width="13.6" height="26.9" rx="6.8" ry="3.5" fill="url(#bd)" opacity="0.91"/><rect x="602.7" y="475.7" width="9.6" height="26.9" rx="4.8" ry="3.5" fill="url(#bd)" opacity="0.41"/><rect x="611.6" y="475.7" width="9.6" height="26.9" rx="4.8" ry="3.5" fill="url(#bd)" opacity="0.36"/><rect x="620.8" y="475.7" width="9.6" height="26.9" rx="4.8" ry="3.5" fill="url(#bd)" opacity="0.46"/><rect x="626.5" y="475.7" width="9.6" height="26.9" rx="4.8" ry="3.5" fill="url(#bd)" opacity="0.41"/><rect x="655.9" y="475.7" width="9.6" height="26.9" rx="4.8" ry="3.5" fill="url(#bd)" opacity="0.24"/><rect x="661.3" y="475.7" width="9.6" height="26.9" rx="4.8" ry="3.5" fill="url(#bd)" opacity="0.24"/><rect x="667.7" y="475.7" width="9.6" height="26.9" rx="4.8" ry="3.5" fill="url(#bd)" opacity="0.24"/><rect x="674.1" y="475.7" width="9.6" height="26.9" rx="4.8" ry="3.5" fill="url(#bd)" opacity="0.18"/><rect x="682.6" y="475.7" width="9.6" height="26.9" rx="4.8" ry="3.5" fill="url(#bd)" opacity="0.18"/></g></g><rect x="334.0" y="503.86" width="363.0" height="30.49" fill="url(#l14)"/><g clip-path="url(#c14)"><g filter="url(#bl)"><rect x="451.4" y="505.2" width="11.6" height="26.9" rx="5.8" ry="3.5" fill="url(#bd)" opacity="0.80"/><rect x="475.3" y="505.2" width="13.6" height="26.9" rx="6.8" ry="3.5" fill="url(#bd)" opacity="0.95"/><rect x="489.7" y="505.2" width="11.5" height="26.9" rx="5.8" ry="3.5" fill="url(#bd)" opacity="0.80"/><rect x="494.4" y="505.2" width="11.5" height="26.9" rx="5.8" ry="3.5" fill="url(#bd)" opacity="0.74"/><rect x="515.6" y="505.2" width="17.4" height="26.9" rx="8.7" ry="3.5" fill="url(#bd)" opacity="0.95"/><rect x="526.0" y="505.2" width="13.6" height="26.9" rx="6.8" ry="3.5" fill="url(#bd)" opacity="0.91"/><rect x="531.4" y="505.2" width="13.6" height="26.9" rx="6.8" ry="3.5" fill="url(#bd)" opacity="0.51"/><rect x="541.9" y="505.2" width="9.6" height="26.9" rx="4.8" ry="3.5" fill="url(#bd)" opacity="0.41"/><rect x="547.3" y="505.2" width="11.6" height="26.9" rx="5.8" ry="3.5" fill="url(#bd)" opacity="0.91"/><rect x="560.0" y="505.2" width="9.6" height="26.9" rx="4.8" ry="3.5" fill="url(#bd)" opacity="0.41"/><rect x="567.5" y="505.2" width="9.6" height="26.9" rx="4.8" ry="3.5" fill="url(#bd)" opacity="0.46"/><rect x="580.4" y="505.2" width="13.6" height="26.9" rx="6.8" ry="3.5" fill="url(#bd)" opacity="0.95"/><rect x="605.2" y="505.2" width="7.5" height="26.9" rx="3.8" ry="3.5" fill="url(#bd)" opacity="0.36"/><rect x="614.3" y="505.2" width="7.5" height="26.9" rx="3.8" ry="3.5" fill="url(#bd)" opacity="0.36"/><rect x="622.8" y="505.2" width="7.5" height="26.9" rx="3.8" ry="3.5" fill="url(#bd)" opacity="0.41"/><rect x="629.2" y="505.2" width="7.5" height="26.9" rx="3.8" ry="3.5" fill="url(#bd)" opacity="0.36"/><rect x="658.1" y="505.2" width="9.6" height="26.9" rx="4.8" ry="3.5" fill="url(#bd)" opacity="0.24"/><rect x="663.4" y="505.2" width="9.6" height="26.9" rx="4.8" ry="3.5" fill="url(#bd)" opacity="0.24"/><rect x="669.8" y="505.2" width="9.6" height="26.9" rx="4.8" ry="3.5" fill="url(#bd)" opacity="0.18"/><rect x="677.2" y="505.2" width="9.6" height="26.9" rx="4.8" ry="3.5" fill="url(#bd)" opacity="0.18"/><rect x="683.7" y="505.2" width="9.6" height="26.9" rx="4.8" ry="3.5" fill="url(#bd)" opacity="0.18"/></g></g><rect x="329.7" y="533.35" width="366.6" height="30.49" fill="url(#l15)"/><g clip-path="url(#c15)"><g filter="url(#bl)"><rect x="449.9" y="534.6" width="11.6" height="26.9" rx="5.8" ry="3.5" fill="url(#bd)" opacity="0.79"/><rect x="474.9" y="534.6" width="13.6" height="26.9" rx="6.8" ry="3.5" fill="url(#bd)" opacity="0.95"/><rect x="485.8" y="534.6" width="17.4" height="26.9" rx="8.7" ry="3.5" fill="url(#bd)" opacity="0.92"/><rect x="513.5" y="534.6" width="17.4" height="26.9" rx="8.7" ry="3.5" fill="url(#bd)" opacity="0.71"/><rect x="526.8" y="534.6" width="10.1" height="26.9" rx="5.0" ry="3.5" fill="url(#bd)" opacity="0.85"/><rect x="531.0" y="534.6" width="10.1" height="26.9" rx="5.0" ry="3.5" fill="url(#bd)" opacity="0.71"/><rect x="534.8" y="534.6" width="17.4" height="26.9" rx="8.7" ry="3.5" fill="url(#bd)" opacity="0.57"/><rect x="546.9" y="534.6" width="11.6" height="26.9" rx="5.8" ry="3.5" fill="url(#bd)" opacity="0.92"/><rect x="558.5" y="534.6" width="9.6" height="26.9" rx="4.8" ry="3.5" fill="url(#bd)" opacity="0.45"/><rect x="566.4" y="534.6" width="9.6" height="26.9" rx="4.8" ry="3.5" fill="url(#bd)" opacity="0.45"/><rect x="581.3" y="534.6" width="9.6" height="26.9" rx="4.8" ry="3.5" fill="url(#bd)" opacity="0.51"/><rect x="604.7" y="534.6" width="7.5" height="26.9" rx="3.8" ry="3.5" fill="url(#bd)" opacity="0.43"/><rect x="613.2" y="534.6" width="7.5" height="26.9" rx="3.8" ry="3.5" fill="url(#bd)" opacity="0.43"/><rect x="622.2" y="534.6" width="7.5" height="26.9" rx="3.8" ry="3.5" fill="url(#bd)" opacity="0.45"/><rect x="628.6" y="534.6" width="7.5" height="26.9" rx="3.8" ry="3.5" fill="url(#bd)" opacity="0.43"/><rect x="654.4" y="534.6" width="7.5" height="26.9" rx="3.8" ry="3.5" fill="url(#bd)" opacity="0.57"/><rect x="661.3" y="534.6" width="9.6" height="26.9" rx="4.8" ry="3.5" fill="url(#bd)" opacity="0.17"/><rect x="667.7" y="534.6" width="9.6" height="26.9" rx="4.8" ry="3.5" fill="url(#bd)" opacity="0.17"/><rect x="675.2" y="534.6" width="9.6" height="26.9" rx="4.8" ry="3.5" fill="url(#bd)" opacity="0.17"/></g></g><rect x="338.9" y="562.84" width="371.5" height="30.49" fill="url(#l16)"/><g clip-path="url(#c16)"><g filter="url(#bl)"><rect x="448.7" y="564.1" width="13.6" height="26.9" rx="6.8" ry="3.5" fill="url(#bd)" opacity="0.51"/><rect x="475.9" y="564.1" width="11.6" height="26.9" rx="5.8" ry="3.5" fill="url(#bd)" opacity="0.46"/><rect x="486.8" y="564.1" width="17.4" height="26.9" rx="8.7" ry="3.5" fill="url(#bd)" opacity="0.68"/><rect x="513.2" y="564.1" width="19.2" height="26.9" rx="9.6" ry="3.5" fill="url(#bd)" opacity="0.95"/><rect x="525.2" y="564.1" width="13.3" height="26.9" rx="6.6" ry="3.5" fill="url(#bd)" opacity="0.85"/><rect x="530.5" y="564.1" width="13.3" height="26.9" rx="6.6" ry="3.5" fill="url(#bd)" opacity="0.68"/><rect x="536.4" y="564.1" width="16.4" height="26.9" rx="8.2" ry="3.5" fill="url(#bd)" opacity="0.68"/><rect x="544.2" y="564.1" width="13.6" height="26.9" rx="6.8" ry="3.5" fill="url(#bd)" opacity="0.74"/><rect x="556.9" y="564.1" width="11.6" height="26.9" rx="5.8" ry="3.5" fill="url(#bd)" opacity="0.46"/><rect x="564.4" y="564.1" width="11.6" height="26.9" rx="5.8" ry="3.5" fill="url(#bd)" opacity="0.46"/><rect x="576.8" y="564.1" width="17.4" height="26.9" rx="8.7" ry="3.5" fill="url(#bd)" opacity="0.95"/><rect x="603.7" y="564.1" width="9.6" height="26.9" rx="4.8" ry="3.5" fill="url(#bd)" opacity="0.36"/><rect x="612.2" y="564.1" width="9.6" height="26.9" rx="4.8" ry="3.5" fill="url(#bd)" opacity="0.36"/><rect x="620.8" y="564.1" width="9.6" height="26.9" rx="4.8" ry="3.5" fill="url(#bd)" opacity="0.41"/><rect x="626.1" y="564.1" width="9.6" height="26.9" rx="4.8" ry="3.5" fill="url(#bd)" opacity="0.36"/><rect x="654.9" y="564.1" width="9.6" height="26.9" rx="4.8" ry="3.5" fill="url(#bd)" opacity="0.46"/><rect x="661.3" y="564.1" width="9.6" height="26.9" rx="4.8" ry="3.5" fill="url(#bd)" opacity="0.24"/><rect x="668.7" y="564.1" width="9.6" height="26.9" rx="4.8" ry="3.5" fill="url(#bd)" opacity="0.18"/><rect x="680.5" y="564.1" width="9.6" height="26.9" rx="4.8" ry="3.5" fill="url(#bd)" opacity="0.18"/></g></g><rect x="338.9" y="592.33" width="373.7" height="30.49" fill="url(#l17)"/><g clip-path="url(#c17)"><g filter="url(#bl)"><rect x="449.7" y="593.6" width="11.6" height="26.9" rx="5.8" ry="3.5" fill="url(#bd)" opacity="0.51"/><rect x="462.0" y="593.6" width="9.6" height="26.9" rx="4.8" ry="3.5" fill="url(#bd)" opacity="0.46"/><rect x="475.9" y="593.6" width="11.6" height="26.9" rx="5.8" ry="3.5" fill="url(#bd)" opacity="0.51"/><rect x="486.8" y="593.6" width="17.4" height="26.9" rx="8.7" ry="3.5" fill="url(#bd)" opacity="0.74"/><rect x="514.5" y="593.6" width="15.5" height="26.9" rx="7.7" ry="3.5" fill="url(#bd)" opacity="0.91"/><rect x="523.8" y="593.6" width="11.6" height="26.9" rx="5.8" ry="3.5" fill="url(#bd)" opacity="0.80"/><rect x="530.0" y="593.6" width="16.4" height="26.9" rx="8.2" ry="3.5" fill="url(#bd)" opacity="0.68"/><rect x="536.4" y="593.6" width="16.4" height="26.9" rx="8.2" ry="3.5" fill="url(#bd)" opacity="0.68"/><rect x="544.6" y="593.6" width="13.6" height="26.9" rx="6.8" ry="3.5" fill="url(#bd)" opacity="0.85"/><rect x="557.9" y="593.6" width="9.6" height="26.9" rx="4.8" ry="3.5" fill="url(#bd)" opacity="0.41"/><rect x="565.4" y="593.6" width="9.6" height="26.9" rx="4.8" ry="3.5" fill="url(#bd)" opacity="0.41"/><rect x="579.3" y="593.6" width="11.6" height="26.9" rx="5.8" ry="3.5" fill="url(#bd)" opacity="0.46"/><rect x="603.7" y="593.6" width="9.6" height="26.9" rx="4.8" ry="3.5" fill="url(#bd)" opacity="0.36"/><rect x="611.2" y="593.6" width="11.6" height="26.9" rx="5.8" ry="3.5" fill="url(#bd)" opacity="0.85"/><rect x="619.8" y="593.6" width="11.6" height="26.9" rx="5.8" ry="3.5" fill="url(#bd)" opacity="0.41"/><rect x="625.1" y="593.6" width="11.6" height="26.9" rx="5.8" ry="3.5" fill="url(#bd)" opacity="0.41"/><rect x="655.0" y="593.6" width="13.6" height="26.9" rx="6.8" ry="3.5" fill="url(#bd)" opacity="0.24"/><rect x="663.4" y="593.6" width="9.6" height="26.9" rx="4.8" ry="3.5" fill="url(#bd)" opacity="0.18"/><rect x="671.9" y="593.6" width="9.6" height="26.9" rx="4.8" ry="3.5" fill="url(#bd)" opacity="0.24"/><rect x="680.5" y="593.6" width="9.6" height="26.9" rx="4.8" ry="3.5" fill="url(#bd)" opacity="0.12"/></g></g><rect x="336.1" y="621.82" width="371.5" height="30.49" fill="url(#l18)"/><g clip-path="url(#c18)"><g filter="url(#bl)" transform="translate(0 636.56) skewX(-2) translate(0 -636.56)"><rect x="459.1" y="623.1" width="17.4" height="26.9" rx="8.7" ry="3.5" fill="url(#bd)" opacity="0.95"/><rect x="476.9" y="623.1" width="11.6" height="26.9" rx="5.8" ry="3.5" fill="url(#bd)" opacity="0.56"/><rect x="484.7" y="623.1" width="23.0" height="26.9" rx="11.5" ry="3.5" fill="url(#bd)" opacity="0.85"/><rect x="502.0" y="623.1" width="13.6" height="26.9" rx="6.8" ry="3.5" fill="url(#bd)" opacity="0.68"/><rect x="511.6" y="623.1" width="21.1" height="26.9" rx="10.6" ry="3.5" fill="url(#bd)" opacity="0.95"/><rect x="524.1" y="623.1" width="15.5" height="26.9" rx="7.7" ry="3.5" fill="url(#bd)" opacity="0.91"/><rect x="531.4" y="623.1" width="13.6" height="26.9" rx="6.8" ry="3.5" fill="url(#bd)" opacity="0.51"/><rect x="545.0" y="623.1" width="15.5" height="26.9" rx="7.7" ry="3.5" fill="url(#bd)" opacity="0.95"/><rect x="559.0" y="623.1" width="11.6" height="26.9" rx="5.8" ry="3.5" fill="url(#bd)" opacity="0.56"/><rect x="604.6" y="623.1" width="10.1" height="26.9" rx="5.0" ry="3.5" fill="url(#bd)" opacity="0.51"/><rect x="608.8" y="623.1" width="10.1" height="26.9" rx="5.0" ry="3.5" fill="url(#bd)" opacity="0.46"/><rect x="618.8" y="623.1" width="13.6" height="26.9" rx="6.8" ry="3.5" fill="url(#bd)" opacity="0.56"/><rect x="636.8" y="623.1" width="9.6" height="26.9" rx="4.8" ry="3.5" fill="url(#bd)" opacity="0.46"/><rect x="642.1" y="623.1" width="9.6" height="26.9" rx="4.8" ry="3.5" fill="url(#bd)" opacity="0.46"/><rect x="647.8" y="623.1" width="9.6" height="26.9" rx="4.8" ry="3.5" fill="url(#bd)" opacity="0.51"/><rect x="659.1" y="623.1" width="9.6" height="26.9" rx="4.8" ry="3.5" fill="url(#bd)" opacity="0.46"/><rect x="682.0" y="623.1" width="9.6" height="26.9" rx="4.8" ry="3.5" fill="url(#bd)" opacity="0.36"/></g></g><rect x="331.4" y="651.31" width="392.9" height="29.49" fill="url(#l19)"/><g clip-path="url(#c19)"><g filter="url(#bl)"><rect x="461.0" y="652.6" width="11.6" height="26.9" rx="5.8" ry="3.5" fill="url(#bd)" opacity="0.46"/><rect x="470.1" y="652.6" width="11.6" height="26.9" rx="5.8" ry="3.5" fill="url(#bd)" opacity="0.41"/><rect x="487.9" y="652.6" width="13.3" height="26.9" rx="6.6" ry="3.5" fill="url(#bd)" opacity="0.68"/><rect x="493.2" y="652.6" width="13.3" height="26.9" rx="6.6" ry="3.5" fill="url(#bd)" opacity="0.51"/><rect x="505.4" y="652.6" width="13.6" height="26.9" rx="6.8" ry="3.5" fill="url(#bd)" opacity="0.41"/><rect x="511.1" y="652.6" width="19.2" height="26.9" rx="9.6" ry="3.5" fill="url(#bd)" opacity="0.95"/><rect x="523.4" y="652.6" width="11.6" height="26.9" rx="5.8" ry="3.5" fill="url(#bd)" opacity="0.36"/><rect x="531.4" y="652.6" width="13.6" height="26.9" rx="6.8" ry="3.5" fill="url(#bd)" opacity="0.41"/><rect x="545.9" y="652.6" width="13.6" height="26.9" rx="6.8" ry="3.5" fill="url(#bd)" opacity="0.56"/><rect x="555.9" y="652.6" width="13.6" height="26.9" rx="6.8" ry="3.5" fill="url(#bd)" opacity="0.56"/><rect x="600.9" y="652.6" width="13.3" height="26.9" rx="6.6" ry="3.5" fill="url(#bd)" opacity="0.36"/><rect x="606.2" y="652.6" width="13.3" height="26.9" rx="6.6" ry="3.5" fill="url(#bd)" opacity="0.36"/><rect x="620.3" y="652.6" width="9.6" height="26.9" rx="4.8" ry="3.5" fill="url(#bd)" opacity="0.30"/><rect x="634.0" y="652.6" width="9.6" height="26.9" rx="4.8" ry="3.5" fill="url(#bd)" opacity="0.24"/><rect x="657.7" y="652.6" width="11.6" height="26.9" rx="5.8" ry="3.5" fill="url(#bd)" opacity="0.36"/><rect x="680.9" y="652.6" width="9.6" height="26.9" rx="4.8" ry="3.5" fill="url(#bd)" opacity="0.12"/></g></g></g><path d="M24.5 91.0H315.1" stroke="#5a5a5a" stroke-width="1.2" fill="none"/><path d="M33.18 91.00v-3.2M44.91 91.00v-3.2M56.64 91.00v-3.2M68.37 91.00v-3.2M80.10 91.00v-6.6M91.83 91.00v-3.2M103.56 91.00v-3.2M115.29 91.00v-3.2M127.02 91.00v-3.2M138.75 91.00v-6.6M150.48 91.00v-3.2M162.21 91.00v-3.2M173.94 91.00v-3.2M185.67 91.00v-3.2M197.40 91.00v-6.6M209.13 91.00v-3.2M220.86 91.00v-3.2M232.59 91.00v-3.2M244.32 91.00v-3.2M256.05 91.00v-6.6M267.78 91.00v-3.2M279.51 91.00v-3.2M291.24 91.00v-3.2M302.97 91.00v-3.2M314.70 91.00v-6.6" stroke="#555" stroke-width="1" fill="none"/><g font-size="12.6" text-anchor="middle" fill="#111"><text x="81.40" y="76.3">60</text><text x="140.05" y="76.3">70</text><text x="198.70" y="76.3">80</text><text x="257.35" y="76.3">90</text><text x="320" y="69">100</text></g><g fill="none" stroke-linejoin="miter" stroke-linecap="butt"><path d="M38.46 285.03H24.38V572.62H113.53" stroke="#000" stroke-width="1.45"/><path d="M132.30 243.05H38.46V327.00H253.12" stroke="#000" stroke-width="1.45"/><path d="M222.03 203.38H132.30V282.72H314.30" stroke="#00008c" stroke-width="1.45"/><path d="M240.21 168.33H222.03V238.44H261.33" stroke="#00008c" stroke-width="1.45"/><path d="M140.51 493.51H113.53V651.72H245.49" stroke="#000" stroke-width="1.45"/><path d="M264.26 408.18H140.51V578.84H265.43" stroke="#000" stroke-width="1.45"/><path d="M260.16 142.50H240.21V194.16H314.30" stroke="#00008c" stroke-width="2.50"/><path d="M289.48 120.36H260.16V164.64H314.30" stroke="#00008c" stroke-width="2.50"/><path d="M314.30 105.60H289.48V135.12H314.30" stroke="#00008c" stroke-width="2.50"/><path d="M314.30 223.68H261.33V253.20H314.30" stroke="#00008c" stroke-width="2.50"/><path d="M314.30 312.24H253.12V341.76H314.30" stroke="#8c2c5c" stroke-width="2.50"/><path d="M314.70 386.04H264.26V430.32H314.30" stroke="#69692e" stroke-width="2.50"/><path d="M314.70 370.03V402.05" stroke="#69692e" stroke-width="2.50"/><path d="M272.47 550.25H265.43V607.44H314.30" stroke="#69692e" stroke-width="2.50"/><path d="M282.44 522.57H272.47V577.92H314.30" stroke="#69692e" stroke-width="2.50"/><path d="M298.86 496.74H282.44V548.40H314.30" stroke="#69692e" stroke-width="2.50"/><path d="M314.70 474.60H298.86V518.88H314.30" stroke="#69692e" stroke-width="2.50"/><path d="M314.70 458.59V490.61" stroke="#69692e" stroke-width="2.50"/><path d="M314.30 636.96H245.49V666.48H314.30" stroke="#ee6a18" stroke-width="2.50"/></g><g font-size="10" text-anchor="end" fill="#111" stroke="#111" stroke-width=".2"><text x="22.88" y="426.87">50.5</text><text x="36.96" y="283.08">52.9</text><text x="130.80" y="241.10">68.9</text><text x="220.53" y="201.44">84.2</text><text x="238.71" y="166.38">87.3</text><text x="258.66" y="140.55">90.7</text><text x="287.98" y="118.41">95.7</text><text x="259.83" y="236.49">90.9</text><text x="251.62" y="325.05">89.5</text><text x="112.03" y="570.67">65.7</text><text x="139.01" y="491.56">70.3</text><text x="262.76" y="406.23">91.4</text><text x="313.20" y="384.09">100</text><text x="263.93" y="576.89">91.6</text><text x="270.97" y="548.29">92.8</text><text x="280.94" y="520.62">94.5</text><text x="297.36" y="494.79">97.3</text><text x="313.20" y="472.65">100</text><text x="243.99" y="649.77">88.2</text></g><g fill="none" stroke="#0a0a0a" stroke-width="1.45"><rect x="727.0" y="208.8" width="555.0" height="58.9" rx="10.0" ry="10.0"/><rect x="727.0" y="300.4" width="555.0" height="53.8" rx="10.0" ry="10.0"/><rect x="727.0" y="448.0" width="562.5" height="167.3" rx="27.0" ry="27.0"/><rect x="727.0" y="622.0" width="555.0" height="59.0" rx="10.0" ry="10.0"/></g><g fill="#111"><circle cx="849.3" cy="109.80" r=".9"/><circle cx="849.3" cy="227.80" r=".9"/><circle cx="849.3" cy="286.80" r=".9"/><circle cx="849.3" cy="345.80" r=".9"/><circle cx="849.3" cy="375.30" r=".9"/><circle cx="849.3" cy="404.80" r=".9"/><circle cx="849.3" cy="434.30" r=".9"/><circle cx="849.3" cy="463.80" r=".9"/><circle cx="849.3" cy="493.30" r=".9"/><circle cx="849.3" cy="522.80" r=".9"/><circle cx="849.3" cy="552.30" r=".9"/><circle cx="849.3" cy="581.80" r=".9"/><circle cx="849.3" cy="611.30" r=".9"/><circle cx="849.3" cy="640.80" r=".9"/><circle cx="849.3" cy="670.30" r=".9"/><circle cx="946.3" cy="375.30" r=".85"/><circle cx="946.3" cy="404.80" r=".85"/><circle cx="946.3" cy="434.30" r=".85"/><circle cx="946.3" cy="463.80" r=".85"/><circle cx="946.3" cy="493.30" r=".85"/><circle cx="946.3" cy="522.80" r=".85"/><circle cx="946.3" cy="552.30" r=".85"/><circle cx="946.3" cy="581.80" r=".85"/><circle cx="946.3" cy="611.30" r=".85"/><circle cx="946.3" cy="640.80" r=".85"/><circle cx="946.3" cy="670.30" r=".85"/></g>
</svg>
<div class="r" style="top:89.50px"><span class="c" style="left:739.9px">H2851</span><span class="c k" style="left:847.3px;color:#121298">O2:H6</span><span class="c k" style="left:944.3px;color:#121298">ST141</span><span class="c" style="left:1027.3px">B2</span><span class="c" style="left:1088.2px">Human</span><span class="c i" style="left:1302.5px">fimH5 papG III sfa/focDE cnf1 hlyA iroN kpsM II-K1 malX usp</span></div>
<div class="r" style="top:119.00px"><span class="c" style="left:739.9px">H3052</span><span class="c k" style="left:847.3px;color:#121298">O2:H6</span><span class="c k" style="left:944.3px;color:#121298">ST141</span><span class="c" style="left:1027.3px">B2</span><span class="c" style="left:1088.2px">Human</span><span class="c i" style="left:1302.5px">fimH5 papG III sfaS cnf1 hlyA iroN kpsM II-K1 malX usp</span></div>
<div class="r" style="top:148.50px"><span class="c" style="left:739.9px">H3078</span><span class="c k" style="left:847.3px;color:#121298">O2:H6</span><span class="c k" style="left:944.3px;color:#121298">ST141</span><span class="c" style="left:1027.3px">B2</span><span class="c" style="left:1088.2px">Human</span><span class="c i" style="left:1302.5px">fimH5 sfa/focDE iroN kpsM II-K1 malX usp</span></div>
<div class="r" style="top:178.00px"><span class="c" style="left:739.9px">H2956</span><span class="c k" style="left:847.3px;color:#121298">O2:H6</span><span class="c k" style="left:944.3px;color:#121298">ST141</span><span class="c" style="left:1027.3px">B2</span><span class="c" style="left:1088.2px">Human</span><span class="c i" style="left:1302.5px">fimH5 papG III sfaS cnf1 hlyA iroN kpsM II-K1 malX usp</span></div>
<div class="r" style="top:207.50px"><span class="c b" style="left:739.9px">EC-19</span><span class="c k" style="left:847.3px;color:#121298">O2:H6</span><span class="c k" style="left:944.3px;color:#121298">ST141</span><span class="c" style="left:1027.3px">B2</span><span class="c" style="left:1088.2px">Southern elephant seal</span><span class="c i" style="left:1302.5px">fimH5 sfaS iutA iucD iroN kpsM II-K1 traT malX usp</span></div>
<div class="r" style="top:237.00px"><span class="c" style="left:739.9px">H2866</span><span class="c k" style="left:847.3px;color:#121298">O2:H6</span><span class="c k" style="left:944.3px;color:#121298">ST141</span><span class="c" style="left:1027.3px">B2</span><span class="c" style="left:1088.2px">Human</span><span class="c i" style="left:1302.5px">fimH5 sfa/focDE iroN kpsM II-K1 traT malX usp</span></div>
<div class="r" style="top:266.50px"><span class="c b" style="left:739.9px">EC-111</span><span class="c k" style="left:847.3px;color:#121298">O2:H6</span><span class="c k" style="left:944.3px;color:#121298">ST141</span><span class="c" style="left:1027.3px">B2</span><span class="c" style="left:1088.2px">Antarctic fur seal</span><span class="c i" style="left:1302.5px">fimH14 sfaS cdtB iroN kpsM II-K1 ibeA malX usp</span></div>
<div class="r" style="top:296.00px"><span class="c" style="left:739.9px">FV 14372</span><span class="c k" style="left:847.3px;color:#8c3862">O25b:H4</span><span class="c k" style="left:944.3px;color:#8c3862">ST95</span><span class="c" style="left:1027.3px">B2</span><span class="c" style="left:1088.2px">Poultry</span><span class="c i" style="left:1302.5px">fimH27 papG II iucD iroN kpsM II-K1 cvaC iss traT malX usp</span></div>
<div class="r" style="top:325.50px"><span class="c b" style="left:739.9px">EC-108</span><span class="c k" style="left:847.3px;color:#8c3862">O25b:H4</span><span class="c k" style="left:944.3px;color:#8c3862">ST95</span><span class="c" style="left:1027.3px">B2</span><span class="c" style="left:1088.2px">Antarctic fur seal</span><span class="c i" style="left:1302.5px">fimH27 papG II iutA iucD iroN kpsM II-K1 cvaC iss traT malX usp</span></div>
<div class="r" style="top:355.00px"><span class="c b" style="left:739.9px">EC-114</span><span class="c k" style="left:847.3px;color:#69694a">O25b:H4</span><span class="c k" style="left:944.3px;color:#69694a">ST131</span><span class="c" style="left:1027.3px">B2</span><span class="c" style="left:1088.2px">Weddell seal</span><span class="c i" style="left:1302.5px">fimH22 cdtB iutA iucD kpsM II-K2 traT ibeA malX usp</span></div>
<div class="r" style="top:384.50px"><span class="c b" style="left:739.9px">EC-115</span><span class="c k" style="left:847.3px;color:#69694a">O25b:H4</span><span class="c k" style="left:944.3px;color:#69694a">ST131</span><span class="c" style="left:1027.3px">B2</span><span class="c" style="left:1088.2px">Antarctic fur seal</span><span class="c i" style="left:1302.5px">fimH22 cdtB iutA iucD kpsM II-K2 traT ibeA malX usp tsh</span></div>
<div class="r" style="top:414.00px"><span class="c b" style="left:739.9px">EC-160</span><span class="c k" style="left:847.3px;color:#69694a">O25b:H4</span><span class="c k" style="left:944.3px;color:#69694a">ST131</span><span class="c" style="left:1027.3px">B2</span><span class="c" style="left:1088.2px">Antarctic fur seal</span><span class="c i" style="left:1302.5px">fimH22 cdtB iutA iucD kpsM II-K2 traT ibeA malX usp</span></div>
<div class="r" style="top:443.50px"><span class="c b" style="left:739.9px">EC-23</span><span class="c k" style="left:847.3px;color:#69694a">O25b:H4</span><span class="c k" style="left:944.3px;color:#69694a">ST131</span><span class="c" style="left:1027.3px">B2</span><span class="c" style="left:1088.2px">Southern elephant seal</span><span class="c i" style="left:1302.5px">fimH22 papG III cdtB iutA iucD iroN kpsM II-K5 cvaC iss traT ibeA malX usp</span></div>
<div class="r" style="top:473.00px"><span class="c b" style="left:739.9px">EC-24</span><span class="c k" style="left:847.3px;color:#69694a">O25b:H4</span><span class="c k" style="left:944.3px;color:#69694a">ST131</span><span class="c" style="left:1027.3px">B2</span><span class="c" style="left:1088.2px">Southern elephant seal</span><span class="c i" style="left:1302.5px">fimH22 papG III cdtB iutA iucD iroN kpsM II-K5 cvaC iss traT ibeA malX usp</span></div>
<div class="r" style="top:502.50px"><span class="c" style="left:739.9px">19 BA</span><span class="c k" style="left:847.3px;color:#69694a">O25b:H4</span><span class="c k" style="left:944.3px;color:#69694a">ST131</span><span class="c" style="left:1027.3px">B2</span><span class="c" style="left:1088.2px">Human</span><span class="c i" style="left:1302.5px">fimH22 papG III cdtB iutA iucD iroN kpsM II-K5 cvaC iss traT ibeA malX usp</span></div>
<div class="r" style="top:532.00px"><span class="c" style="left:739.9px">H1410</span><span class="c k" style="left:847.3px;color:#69694a">O25b:H4</span><span class="c k" style="left:944.3px;color:#69694a">ST131</span><span class="c" style="left:1027.3px">B2</span><span class="c" style="left:1088.2px">Human</span><span class="c i" style="left:1302.5px">fimH22 papG III cdtB kpsM II-K5 ibeA malX usp</span></div>
<div class="r" style="top:561.50px"><span class="c" style="left:739.9px">H1698</span><span class="c k" style="left:847.3px;color:#69694a">O25b:H4</span><span class="c k" style="left:944.3px;color:#69694a">ST131</span><span class="c" style="left:1027.3px">B2</span><span class="c" style="left:1088.2px">Human</span><span class="c i" style="left:1302.5px">fimH22 papG III cdtB iutA iucD iroN kpsM II-K5 cvaC iss traT ibeA malX usp</span></div>
<div class="r" style="top:591.00px"><span class="c" style="left:739.9px">H2874</span><span class="c k" style="left:847.3px;color:#69694a">O25b:H4</span><span class="c k" style="left:944.3px;color:#69694a">ST131</span><span class="c" style="left:1027.3px">B2</span><span class="c" style="left:1088.2px">Human</span><span class="c i" style="left:1302.5px">fimH22 papG III cdtB kpsM II-K5 traT ibeA malX usp</span></div>
<div class="r" style="top:620.50px"><span class="c" style="left:739.9px">60 SA</span><span class="c k" style="left:847.3px;color:#e26d2a">O16:H5</span><span class="c k" style="left:944.3px;color:#e26d2a">ST131</span><span class="c" style="left:1027.3px">B2</span><span class="c" style="left:1088.2px">Human</span><span class="c i" style="left:1302.5px">fimH41 afa/draBC sat iutA iucD kpsM II-K2 traT malX usp</span></div>
<div class="r" style="top:650.00px"><span class="c b" style="left:739.9px">EC-152</span><span class="c k" style="left:847.3px;color:#e26d2a">O16:H5</span><span class="c k" style="left:944.3px;color:#e26d2a">ST131</span><span class="c" style="left:1027.3px">B2</span><span class="c" style="left:1088.2px">Antarctic fur seal</span><span class="c i" style="left:1302.5px">fimH41 kpsM II-K5 malX usp</span></div>
</body>
</html>
